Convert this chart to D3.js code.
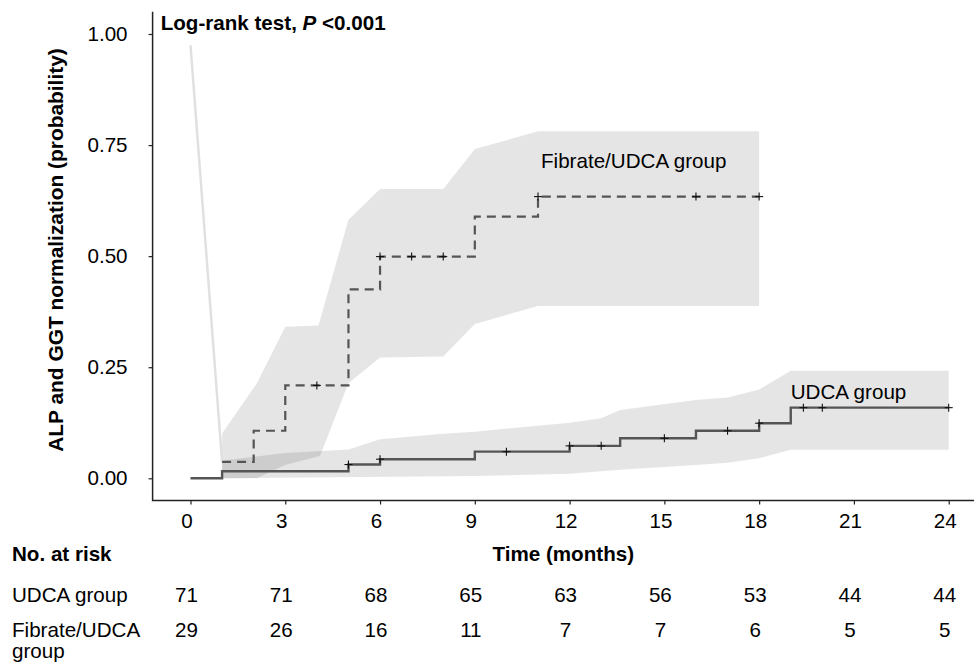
<!DOCTYPE html>
<html><head><meta charset="utf-8">
<script src="https://cdn.jsdelivr.net/npm/d3@7"></script>
<style>
body{margin:0;background:#fff;}
text{font-family:"Liberation Sans",Arial,sans-serif;fill:#000;}
</style></head>
<body><svg id="c" width="974" height="666"></svg>
<script>
// ---- data ----
const udcaStepT = [0, 1, 5, 6, 9, 12, 13.6, 16, 18, 19, 24];
const udcaStepP = [0, 0.016, 0.031, 0.043, 0.060, 0.073, 0.090, 0.107, 0.124, 0.159, 0.159];
const udcaCensor = [5, 6, 10, 12, 13, 15, 17, 18, 19.4, 20, 24];

const fibStepT = [1, 2, 3, 5, 6, 9, 11, 18];
const fibStepP = [0.037, 0.107, 0.209, 0.425, 0.499, 0.589, 0.634, 0.634];
const fibCensor = [4, 6, 7, 8, 11, 16, 18];

const udcaUpperT = [1, 3, 5, 6, 8, 9, 12, 13, 13.6, 16, 17, 18, 19, 24];
const udcaUpperP = [0.04, 0.057, 0.065, 0.088, 0.10, 0.105, 0.125, 0.135, 0.154, 0.176, 0.182, 0.20, 0.242, 0.242];
const udcaLowerT = [1, 9, 12, 13.6, 16, 17, 18, 19, 24];
const udcaLowerP = [0, 0.005, 0.01, 0.019, 0.03, 0.035, 0.045, 0.064, 0.064];

const fibUpperT = [1, 2.1, 3, 4.05, 5, 6, 8, 9, 11, 18];
const fibUpperP = [0.101, 0.214, 0.341, 0.344, 0.582, 0.651, 0.651, 0.741, 0.781, 0.781];
const fibLowerT = [1, 2.1, 3, 4.1, 5, 6, 8, 9, 11, 18];
const fibLowerP = [0, 0, 0.03, 0.05, 0.214, 0.272, 0.274, 0.3475, 0.388, 0.388];

const fadeT = [0, 1];
const fadeP = [0.975, 0.037];

const riskTimes = [0, 3, 6, 9, 12, 15, 18, 21, 24];
const udcaRisk = [71, 71, 68, 65, 63, 56, 53, 44, 44];
const fibRisk = [29, 26, 16, 11, 7, 7, 6, 5, 5];
const yTicks = [0, 0.25, 0.5, 0.75, 1];

// ---- drawing ----
const svg = d3.select("#c");
const x = d3.scaleLinear().domain([0, 24]).range([190.5, 948.7]);
const y = d3.scaleLinear().domain([0, 1]).range([478.3, 34]);
const FS = 20.6;

function zip(T, P){ return T.map((t,i)=>[t, P[i]]); }
function band(UT, UP, LT, LP){
  const up = zip(UT, UP), lo = zip(LT, LP).reverse();
  return up.concat(lo);
}
function stepAt(T, P, t){ let v = P[0]; for(let i=0;i<T.length;i++){ if(T[i] <= t + 1e-9) v = P[i]; } return v; }

const area = d3.line().x(d=>x(d[0])).y(d=>y(d[1]));
// CI bands
svg.append("path").attr("d", area(band(udcaUpperT, udcaUpperP, udcaLowerT, udcaLowerP)) + "Z")
  .attr("fill", "#000").attr("fill-opacity", 0.1);
svg.append("path").attr("d", area(band(fibUpperT, fibUpperP, fibLowerT, fibLowerP)) + "Z")
  .attr("fill", "#000").attr("fill-opacity", 0.1);

// faint line
svg.append("path").attr("d", area(zip(fadeT, fadeP)))
  .attr("fill", "none").attr("stroke", "#e0e0e0").attr("stroke-width", 2.4);

// step curves
const step = d3.line().x(d=>x(d[0])).y(d=>y(d[1])).curve(d3.curveStepAfter);
svg.append("path").attr("d", step(zip(udcaStepT, udcaStepP)))
  .attr("fill","none").attr("stroke","#555").attr("stroke-width",2.4);
svg.append("path").attr("d", step(zip(fibStepT, fibStepP)))
  .attr("fill","none").attr("stroke","#555").attr("stroke-width",2.2).attr("stroke-dasharray","9,6");

// censor marks
function crosses(C, T, P){
  const g = svg.append("g").attr("stroke","#111").attr("stroke-width",1.1);
  C.forEach(t=>{
    const cx = x(t), cy = y(stepAt(T, P, t));
    g.append("line").attr("x1",cx-4).attr("x2",cx+4).attr("y1",cy).attr("y2",cy);
    g.append("line").attr("x1",cx).attr("x2",cx).attr("y1",cy-4).attr("y2",cy+4);
  });
}
crosses(udcaCensor, udcaStepT, udcaStepP);
crosses(fibCensor, fibStepT, fibStepP);

// axes
const x0 = x(-1.2), yb = y(-0.05);
svg.append("path").attr("d", `M${x0},${y(1.05)}V${yb}H974`).attr("fill","none").attr("stroke","#222").attr("stroke-width",1.5);

const ya = svg.append("g").attr("transform",`translate(${x0},0)`)
  .call(d3.axisLeft(y).tickValues(yTicks).tickFormat(d3.format(".2f")).tickSize(4).tickPadding(21));
const xa = svg.append("g").attr("transform",`translate(0,${yb})`)
  .call(d3.axisBottom(x).tickValues(riskTimes).tickFormat(d3.format("d")).tickSize(4).tickPadding(9));
[ya, xa].forEach(a=>{
  a.select(".domain").remove();
  a.selectAll(".tick line").attr("stroke","#222").attr("stroke-width",1.2);
  a.selectAll("text").attr("font-size",FS).attr("font-family","Liberation Sans, Arial, sans-serif").attr("fill","#000");
});
xa.selectAll(".tick text").attr("dx",-4);

// titles
const t = svg.append("text").attr("x",160.7).attr("y",30).attr("font-size",FS).attr("font-weight","bold");
t.append("tspan").text("Log-rank test, ");
t.append("tspan").attr("font-style","italic").text("P");
t.append("tspan").text(" <0.001");

svg.append("text").attr("transform","translate(63,250) rotate(-90)").attr("text-anchor","middle")
  .attr("font-size",20.9).attr("font-weight","bold").text("ALP and GGT normalization (probability)");

svg.append("text").attr("x",541).attr("y",168).attr("font-size",FS).text("Fibrate/UDCA group");
svg.append("text").attr("x",790.7).attr("y",399).attr("font-size",FS).text("UDCA group");

// risk table
svg.append("text").attr("x",12).attr("y",561).attr("font-size",FS).attr("font-weight","bold").text("No. at risk");
svg.append("text").attr("x",(x0+974)/2).attr("y",561).attr("text-anchor","middle").attr("font-size",FS).attr("font-weight","bold").text("Time (months)");
svg.append("text").attr("x",12).attr("y",602).attr("font-size",FS).text("UDCA group");
svg.append("text").attr("x",12).attr("y",637).attr("font-size",FS).text("Fibrate/UDCA");
svg.append("text").attr("x",12).attr("y",658).attr("font-size",FS).text("group");

svg.append("g").selectAll("text").data(udcaRisk).join("text")
  .attr("x",(d,i)=>x(riskTimes[i])-4).attr("y",602).attr("text-anchor","middle").attr("font-size",FS).text(d=>d);
svg.append("g").selectAll("text").data(fibRisk).join("text")
  .attr("x",(d,i)=>x(riskTimes[i])-4).attr("y",637).attr("text-anchor","middle").attr("font-size",FS).text(d=>d);
</script></body></html>
